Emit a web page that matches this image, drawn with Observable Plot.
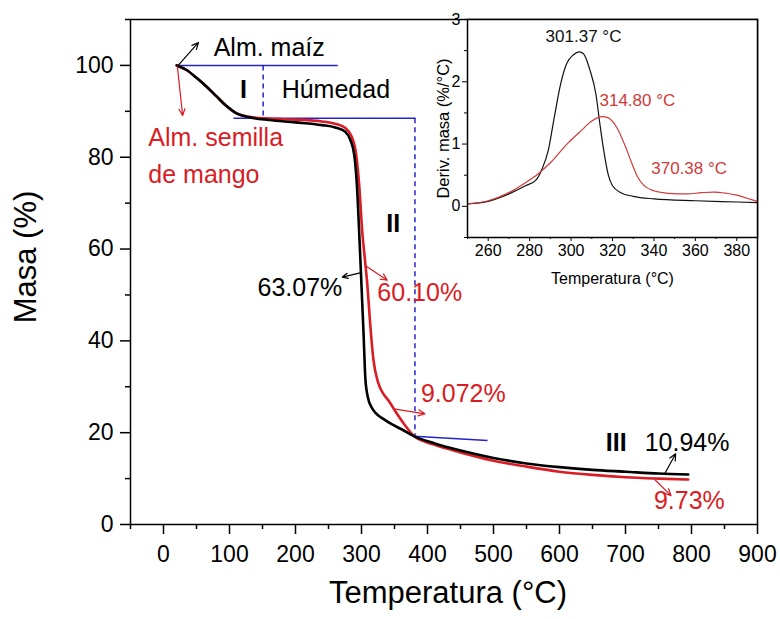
<!DOCTYPE html>
<html><head><meta charset="utf-8">
<script src="https://cdn.jsdelivr.net/npm/d3@7"></script>
<script src="https://cdn.jsdelivr.net/npm/@observablehq/plot@0.6"></script>
<style>
body{margin:0;background:#fff;}
#wrap{position:relative;width:780px;height:619px;}
#inset{position:absolute;left:400px;top:0;}
</style></head><body>
<div id="wrap"><div id="main"></div><div id="inset"></div></div>
<script>
// ---- Main TGA curves ----
const tempMaiz = [20, 35, 50, 65, 80, 95, 110, 130, 160, 200, 240, 260, 275, 283, 289, 293, 297, 300, 303, 306, 310, 315, 322, 333, 345, 360, 380, 410, 450, 500, 550, 600, 650, 700, 750, 795];
const masaMaiz = [100, 99.0, 97.3, 95.4, 93.3, 91.2, 89.6, 88.7, 88.1, 87.6, 87.0, 86.5, 85.6, 83.8, 80.5, 74, 62, 52, 42, 31.5, 27.5, 25.6, 24.2, 23.0, 21.9, 20.8, 19.2, 17.7, 16.1, 14.5, 13.3, 12.5, 11.9, 11.5, 11.1, 10.9];
const tempMango = [20, 35, 50, 65, 80, 95, 110, 130, 160, 200, 240, 260, 275, 285, 292, 297, 301, 305, 309, 313, 318, 325, 333, 342, 352, 365, 380, 410, 450, 500, 550, 600, 650, 700, 750, 795];
const masaMango = [100, 99.0, 97.3, 95.4, 93.3, 91.2, 89.6, 88.8, 88.4, 88.2, 87.8, 87.3, 86.4, 84.5, 80.5, 73, 64, 58, 52, 44, 36, 31, 28.5, 26.8, 24.5, 21.8, 19.2, 17.4, 15.7, 13.9, 12.6, 11.5, 10.8, 10.3, 10.0, 9.8];

// ---- Inset DTG curves ----
const dtgTempMaiz = [250, 260, 270, 278, 283, 286, 289, 292, 295, 298, 301, 304, 306, 309, 312, 314, 316, 318, 320, 324, 330, 340, 360, 380, 390];
const dtgMaiz = [0.04, 0.08, 0.2, 0.33, 0.42, 0.6, 0.9, 1.45, 1.97, 2.3, 2.43, 2.48, 2.45, 2.2, 1.8, 1.3, 0.85, 0.5, 0.33, 0.22, 0.16, 0.12, 0.09, 0.07, 0.06];
const dtgTempMango = [250, 260, 270, 278, 284, 290, 298, 305, 310, 315, 318, 322, 326, 329, 332, 335, 340, 347, 356, 363, 369, 375, 380, 385, 390];
const dtgMango = [0.04, 0.09, 0.22, 0.38, 0.52, 0.7, 1.0, 1.22, 1.37, 1.44, 1.42, 1.27, 0.98, 0.72, 0.48, 0.34, 0.25, 0.21, 0.2, 0.22, 0.23, 0.21, 0.18, 0.13, 0.08];

// ---- Ticks ----
const xTicks = [0, 100, 200, 300, 400, 500, 600, 700, 800, 900];
const xMinor = [-50, 50, 150, 250, 350, 450, 550, 650, 750, 850];
const yTicks = [0, 20, 40, 60, 80, 100];
const yMinor = [10, 30, 50, 70, 90, 110];
const inXTicks = [260, 280, 300, 320, 340, 360, 380];
const inXMinor = [250, 270, 290, 310, 330, 350, 370, 390];
const inYTicks = [0, 1, 2, 3];
const inYMinor = [-0.5, 0.5, 1.5, 2.5];

// ---- Guide lines (blue) ----
const guideSolid = [
  {x1: 20, y1: 100, x2: 264, y2: 100},
  {x1: 106, y1: 88.5, x2: 382, y2: 88.5},
  {x1: 380, y1: 19.2, x2: 491, y2: 18.3}
];
const guideDashed = [
  {x1: 151, y1: 100, x2: 151, y2: 88.5},
  {x1: 381, y1: 88.5, x2: 381, y2: 19.2}
];

// ---- Arrows ----
const arrowsBlack = [
  {x1: 21, y1: 99.8, x2: 53, y2: 105},
  {x1: 298, y1: 54.8, x2: 271, y2: 53.9},
  {x1: 760, y1: 11.2, x2: 776, y2: 15.4}
];
const arrowsRed = [
  {x1: 21, y1: 99.8, x2: 29, y2: 89.1},
  {x1: 308, y1: 56.2, x2: 339, y2: 53.2},
  {x1: 349, y1: 25.2, x2: 396, y2: 24.1},
  {x1: 745, y1: 9.7, x2: 769, y2: 6.3}
];

// ---- Labels ----
const labelsBlackStart = [
  {x: 76, y: 103.9, t: "Alm. maíz"},
  {x: 179, y: 94.6, t: "Húmedad"},
  {x: 729, y: 17.7, t: "10.94%"}
];
const labelsBlackEnd = [
  {x: 271, y: 51.6, t: "63.07%"}
];
const labelsRed = [
  {x: -23, y: 84.1, t: "Alm. semilla"},
  {x: -23, y: 76.2, t: "de mango"},
  {x: 324, y: 50.4, t: "60.10%"},
  {x: 390, y: 28.5, t: "9.072%"},
  {x: 743, y: 5.1, t: "9.73%"}
];
const labelsBold = [
  {x: 121, y: 94.6, t: "I"},
  {x: 348, y: 65.4, t: "II"},
  {x: 686, y: 17.7, t: "III"}
];
const insetLabels = [
  {x: 306, y: 2.73, t: "301.37 °C", c: "#111"},
  {x: 332, y: 1.70, t: "314.80 °C", c: "#d03a3a"},
  {x: 357, y: 0.61, t: "370.38 °C", c: "#d03a3a"}
];

const FONT = "'Liberation Sans', Arial, Helvetica, sans-serif";
const RED = "#da1c24";
const BLUE = "#2424cc";

const maiz = tempMaiz.map((t, i) => ({t, m: masaMaiz[i]}));
const mango = tempMango.map((t, i) => ({t, m: masaMango[i]}));
const dMaiz = dtgTempMaiz.map((t, i) => ({t, d: dtgMaiz[i]}));
const dMango = dtgTempMango.map((t, i) => ({t, d: dtgMango[i]}));

const main = Plot.plot({
  width: 780, height: 619,
  marginLeft: 130, marginRight: 23, marginTop: 19, marginBottom: 95,
  style: {fontFamily: FONT, background: "white", overflow: "visible", color: "black"},
  x: {domain: [-50, 900]},
  y: {domain: [0, 110]},
  marks: [
    Plot.axisX({ticks: xTicks, tickSize: 10, tickPadding: 11, fontSize: 23, label: null, tickFormat: d => String(d), strokeWidth: 1.5}),
    Plot.axisX({ticks: xMinor, tickSize: 5, tickFormat: () => "", label: null, strokeWidth: 1.5}),
    Plot.axisY({ticks: yTicks, tickSize: 10, tickPadding: 7, fontSize: 23, label: null, tickFormat: d => String(d), strokeWidth: 1.5}),
    Plot.axisY({ticks: yMinor, tickSize: 5, tickFormat: () => "", label: null, strokeWidth: 1.5}),
    Plot.frame({strokeWidth: 1.5}),
    Plot.link(guideSolid, {x1: "x1", y1: "y1", x2: "x2", y2: "y2", stroke: BLUE, strokeWidth: 1.5}),
    Plot.link(guideDashed, {x1: "x1", y1: "y1", x2: "x2", y2: "y2", stroke: BLUE, strokeWidth: 1.5, strokeDasharray: "5,4"}),
    Plot.line(mango, {x: "t", y: "m", stroke: RED, strokeWidth: 2.6, curve: "monotone-x"}),
    Plot.line(maiz, {x: "t", y: "m", stroke: "black", strokeWidth: 2.6, curve: "monotone-x"}),
    Plot.arrow(arrowsBlack, {x1: "x1", y1: "y1", x2: "x2", y2: "y2", stroke: "black", strokeWidth: 1.2, headLength: 9, headAngle: 50}),
    Plot.arrow(arrowsRed, {x1: "x1", y1: "y1", x2: "x2", y2: "y2", stroke: RED, strokeWidth: 1.2, headLength: 9, headAngle: 50}),
    Plot.text(labelsBlackStart, {x: "x", y: "y", text: "t", textAnchor: "start", fill: "black", fontSize: 25, lineAnchor: "middle"}),
    Plot.text(labelsBlackEnd, {x: "x", y: "y", text: "t", textAnchor: "end", fill: "black", fontSize: 25, lineAnchor: "middle"}),
    Plot.text(labelsRed, {x: "x", y: "y", text: "t", textAnchor: "start", fill: RED, fontSize: 25, lineAnchor: "middle"}),
    Plot.text(labelsBold, {x: "x", y: "y", text: "t", textAnchor: "middle", fill: "black", fontSize: 25, fontWeight: "bold", lineAnchor: "middle"}),
    Plot.text(["Temperatura (°C)"], {frameAnchor: "bottom", dx: 4, dy: 69, textAnchor: "middle", lineAnchor: "middle", fontSize: 31, fill: "black"}),
    Plot.text(["Masa (%)"], {frameAnchor: "left", dx: -104, dy: -15, rotate: -90, textAnchor: "middle", lineAnchor: "middle", fontSize: 31, fill: "black"})
  ]
});
document.getElementById("main").appendChild(main);

const inset = Plot.plot({
  width: 380, height: 300,
  marginLeft: 67, marginRight: 23, marginTop: 19, marginBottom: 63,
  style: {fontFamily: FONT, background: "transparent", overflow: "visible", color: "black"},
  x: {domain: [250, 390]},
  y: {domain: [-0.5, 3]},
  marks: [
    Plot.frame({fill: "white", stroke: null}),
    Plot.line(dMaiz, {x: "t", y: "d", stroke: "#111", strokeWidth: 1.2, curve: "monotone-x"}),
    Plot.line(dMango, {x: "t", y: "d", stroke: "#d03a3a", strokeWidth: 1.2, curve: "monotone-x"}),
    Plot.axisX({ticks: inXTicks, tickSize: 4, tickPadding: 3, fontSize: 16, label: null, tickFormat: d => String(d)}),
    Plot.axisX({ticks: inXMinor, tickSize: 2, tickFormat: () => "", label: null}),
    Plot.axisY({ticks: inYTicks, tickSize: 5, tickPadding: 2, fontSize: 16, label: null, tickFormat: d => String(d)}),
    Plot.axisY({ticks: inYMinor, tickSize: 3, tickFormat: () => "", label: null}),
    Plot.frame({strokeWidth: 1.5}),
    Plot.text(insetLabels, {x: "x", y: "y", text: "t", fill: "c", fontSize: 17, lineAnchor: "middle"}),
    Plot.text(["Temperatura (°C)"], {frameAnchor: "bottom", dy: 41, textAnchor: "middle", lineAnchor: "middle", fontSize: 16, fill: "black"}),
    Plot.text(["Deriv. masa (%/°C)"], {frameAnchor: "left", dx: -24, rotate: -90, textAnchor: "middle", lineAnchor: "middle", fontSize: 16.5, fill: "black"})
  ]
});
document.getElementById("inset").appendChild(inset);
</script>
</body></html>
